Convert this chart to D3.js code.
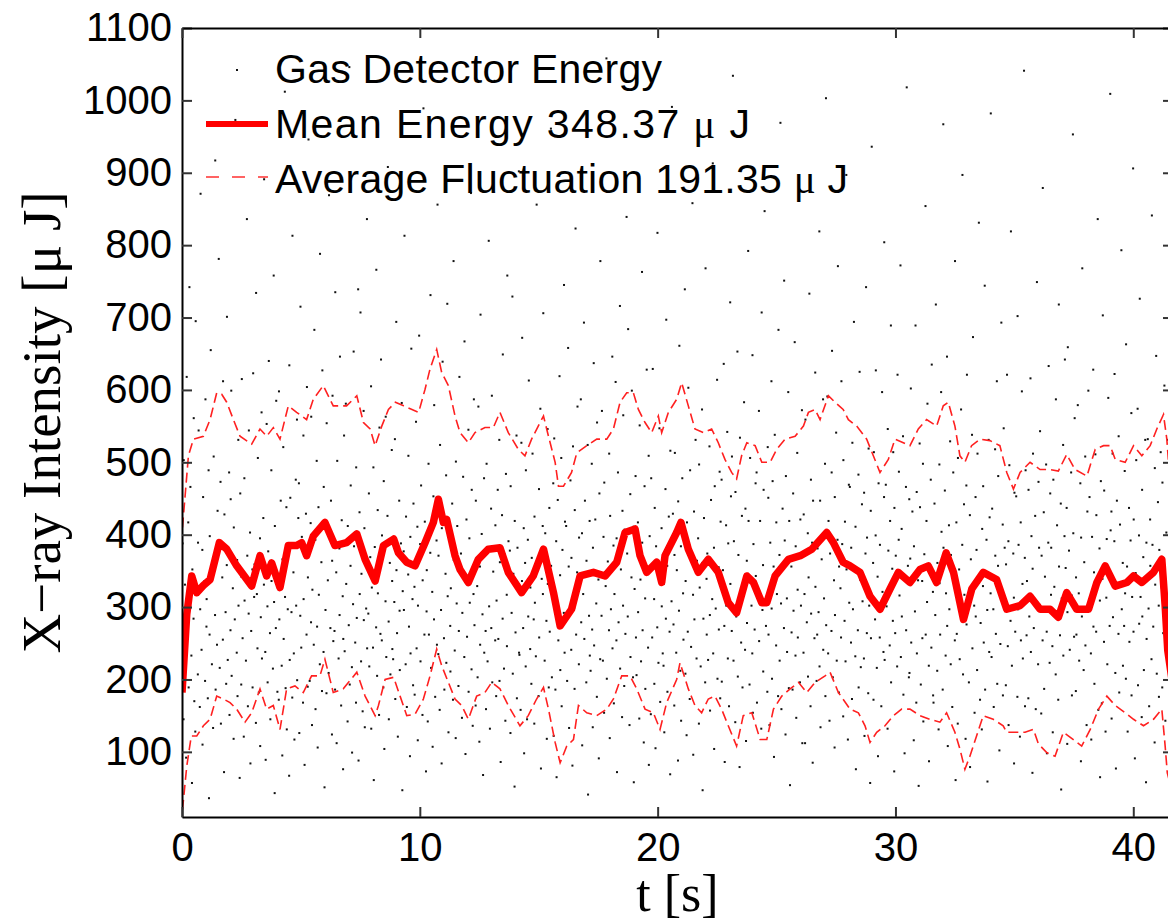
<!DOCTYPE html>
<html lang="en">
<head>
<meta charset="UTF-8">
<title>Gas Detector Energy</title>
<style>
  body { margin: 0; background: #fff; }
  svg text { font-family: "Liberation Sans", Arial, Helvetica, sans-serif; }
</style>
</head>
<body>
<svg id="chart" width="1168" height="921"></svg>

<script src="https://cdn.jsdelivr.net/npm/d3@7"></script>
<script>

const xTickValues = [0, 10, 20, 30, 40]
const yTickValues = [100, 200, 300, 400, 500, 600, 700, 800, 900, 1000, 1100]
const tEnd = 41.67
const meanEnergy = 348.37
const avgFluctuation = 191.35

// single shot energies (uJ), in shot order over 0..tEnd
const shotEnergy = [
  212,388,145,503,276,331,92,618,254,417,189,742,301,466,233,57,352,284,561,170,
  128,695,318,207,389,544,162,297,871,241,379,110,452,336,198,587,273,
  311,174,489,36,262,398,655,221,347,133,508,289,917,186,362,248,433,
  781,392,216,473,139,341,255,612,72,428,293,194,358,701,227,486,
  151,268,449,599,205,326,118,410,283,973,237,365,177,531,302,64,457,
  193,342,615,257,121,478,309,226,836,371,163,291,544,403,84,267,352,189,623,314,
  359,140,734,318,243,506,182,395,108,286,569,229,423,331,891,
  238,89,553,301,196,377,640,264,145,489,336,215,758,307,43,412,271,585,183,
  334,172,598,283,447,219,95,366,521,256,1012,314,188,438,131,297,
  67,634,227,451,293,175,813,348,236,117,476,302,559,199,423,
  471,126,288,715,244,397,168,537,311,82,429,262,604,190,341,946,
  198,416,279,563,137,324,248,683,393,159,502,273,106,438,317,221,788,362,184,
  627,238,466,51,296,413,181,554,337,209,869,271,447,124,364,592,253,
  267,186,735,348,112,502,229,381,289,646,164,420,315,76,256,537,
  239,581,332,142,412,275,1046,193,357,468,217,99,304,653,384,251,168,493,285,739,
  88,431,318,707,225,346,156,571,282,409,134,298,836,243,
  291,457,218,369,605,132,327,244,493,61,383,272,766,205,434,319,151,548,263,
  642,254,399,189,474,104,308,563,231,426,908,280,145,361,207,517,336,242,
  228,307,532,173,694,351,264,121,447,295,213,388,582,47,322,
  377,296,813,221,425,162,345,509,273,94,397,236,657,311,192,443,
  328,179,556,243,411,116,302,675,387,225,468,151,337,989,262,418,73,294,
  351,142,498,262,375,731,216,321,107,453,283,579,176,392,248,856,
  235,371,158,524,296,84,409,639,257,186,346,482,223,719,315,127,398,274,
  211,326,443,172,778,365,240,119,501,305,412,191,267,618,353,
  374,147,292,480,231,667,338,97,421,259,545,183,395,306,872,214,462,136,318,587,
  275,164,447,329,203,577,114,356,248,704,401,290,68,478,237,
  267,159,498,383,225,806,301,132,436,271,592,196,349,1027,254,413,177,309,462,
  256,531,198,362,86,427,284,649,215,373,143,484,317,246,758,391,
  378,126,467,292,729,208,346,52,419,265,537,174,382,902,237,
  234,158,527,336,672,271,409,98,361,218,489,145,393,287,613,242,327,
  194,368,512,283,139,425,306,232,856,351,177,463,258,574,77,339,412,
  318,706,226,402,281,118,546,332,189,437,266,961,357,203,471,122,
  533,312,186,391,65,448,254,619,344,213,506,163,379,292,745,237,418,
  412,198,287,658,356,133,475,241,368,81,522,299,187,434,823,262,348,577,221,396,
  343,587,279,402,109,318,693,256,447,196,364,524,41,288,419,233,
  212,498,269,134,382,637,247,421,305,176,555,338,91,457,228,778,
  288,571,226,397,154,472,329,1058,201,363,268,512,119,426,297,646,243,385,167,
  318,611,254,395,72,486,279,716,215,352,148,433,302,565,191,407,263,839,
  374,287,684,137,456,231,341,599,203,411,58,325,481,258,
  206,417,293,146,551,338,225,763,389,268,113,467,312,187,628,354,244,509,82,398,
  152,478,258,629,311,194,437,105,384,272,817,223,346,547,169,409,301,236,
  219,332,127,463,284,697,357,183,425,266,69,516,308,991,
  429,276,164,372,513,237,351,88,446,295,661,212,384,143,478,319,255,739,
  208,336,123,417,266,603,382,173,489,245,858,317,96,432,283,531,229,364,
  395,139,497,327,218,573,361,47,284,423,196,768,339,262,
  374,227,522,289,157,448,311,913,236,382,104,467,298,614,201,355,269,487,174,418,
  476,197,351,636,274,86,413,302,542,229,388,163,721,332,453,
  267,508,1034,226,391,141,459,287,653,204,372,316,79,534,251,426,189,
  328,583,241,436,115,364,278,792,419,193,506,302,236,648,154,387,269,471,343,
  486,168,324,571,253,419,132,707,296,358,211,462,847,274,183,521,
  451,262,137,389,612,298,201,474,356,93,538,247,417,318,177,683,372,226,969,305,
  159,436,271,751,392,124,481,312,238,597,188,419,54,356,265,
  186,457,295,666,233,384,147,513,324,258,876,196,421,302,572,112,
  237,428,318,112,559,279,402,204,341,733,163,476,291,389,85,447,257,624,328,198,
  262,381,293,819,218,447,134,366,587,241,312,498,177,1003,275,
  591,236,419,143,374,267,486,654,203,337,106,452,289,541,226,393,771,182,356,
  326,258,612,387,149,503,281,418,225,897,352,117,469,306,
  466,251,382,173,527,297,694,232,411,76,349,268,483,189,625,338,217,442,308,
  229,458,122,374,742,264,396,181,519,302,57,433,257,936,361,
  172,514,283,399,627,216,342,94,471,258,386,163,597,321,238,452,804,
  227,469,301,132,546,378,247,419,689,196,353,281,514,73,437,264,371,218,621,393,
  487,316,772,231,408,287,536,179,342,98,466,268,1018,357,203,449,
  209,367,602,251,432,116,384,294,689,168,459,236,337,53,526,
  438,193,336,257,498,142,373,854,262,419,307,581,219,87,352,476,244,635,321,178,
  168,443,289,718,212,361,131,497,333,262,597,404,186,967,
  382,461,233,319,646,274,108,413,297,529,221,372,162,486,349,254,778,61,
  417,263,139,506,352,228,573,294,386,897,207,442,317,118,468,276,621,
  318,196,427,79,366,538,243,673,302,154,452,287,379,213,512,831,334,172,
  278,131,408,329,467,251,744,186,393,296,59,531,238,424,319,982,
  231,436,297,162,518,371,263,612,194,357,481,102,327,249,693,414,178,547,306,382,
  192,359,621,246,391,137,496,281,819,219,374,313,84,458,266,
  453,176,702,297,386,121,417,254,598,332,229,1041,368,163,489,261,
  336,174,462,287,616,238,398,71,353,512,271,426,159,749,304,221,473,382,
  303,543,153,371,254,879,431,187,342,497,266,98,389,633,223,457,317,
  382,246,127,476,328,207,587,294,413,172,718,356,261,443,48,312,524,233,398,642,
  354,437,111,293,659,378,241,486,316,178,953,402,259,561,
  184,341,262,579,319,226,471,87,396,287,768,213,362,508,247,137,432,301,599,
  301,452,236,117,397,628,273,348,194,511,266,427,836,158,381,309,65,474,
  167,339,703,252,461,128,313,394,221,589,342,274,1009,406,
  432,146,512,286,391,622,209,77,447,328,263,536,182,414,793,297,361,219,
  274,488,319,201,663,356,128,437,252,392,568,178,314,906,266,421,91,347,503,
  574,192,399,277,726,314,148,462,287,369,213,531,58,389,256,
  532,298,163,421,357,228,841,386,273,113,492,331,647,208,445,302,176,379,514,
  327,189,472,264,606,318,143,403,287,531,226,987,354,92,437,261,698
]

// spacing between the shown shots, in machine pulses (shots are not all shown)
const shotGap = [
  3,5,1,4,2,6,3,1,7,2,4,4,1,5,3,2,6,1,3,5,2,7,4,1,3,6,2,2,5,4,1,3,7,3,2,5,1,6,4,2,3,1,5,6,2,4,3,7,1,2,
  5,2,3,6,1,4,4,2,7,3,1,5,2,6,3,3,1,4,7,2,5,1,3,2,6,4,1,5,3,7,2,2,4,1,6,3,5,1,2,4,6,3,1,7,5,2,3,4,1,6,
  2,4,6,1,3,5,2,7,1,4,3,2,5,6,1,3,4,2,7,3,1,6,2,5,4,1,3,3,6,2,5,1,7,4,2,3,1,5,2,6,4,3,1,2,7,5,3,1,4,2,
  6,1,3,4,2,5,7,1,2,3,6,4,1,5,2,3,7,2,4,1,6,3,2,5,1,4,3,6,2,1,5,7,3,2,4,1,3,6,5,2,1,4,2,7,3,5,1,6,2,3,
  4,2,5,1,7,3,2,6,1,4,5,2,3,1,6,4,2,7,3,5,1,2,4,6,3,1,5,2,3,7,4,1,2,6,3,5,2,1,4,3,6,2,7,1,5,3,2,4,1,6,
  1,5,3,2,6,4,1,3,7,2,5,1,4,3,2,6,5,1,3,2,7,4,1,6,3,2,5,4,1,3,6,2,2,5,7,1,4,3,1,6,2,5,3,4,1,7,2,3,6,1,
  3,6,2,4,1,5,3,7,2,1,4,6,3,2,5,1,3,4,7,2,1,6,4,3,2,5,1,3,6,2,4,7,1,3,5,2,1,4,6,3,2,5,1,7,3,4,2,1,6,5,
  2,3,7,1,4,5,2,6,3,1,5,4,2,7,1,3,6,2,4,3,1,5,7,2,3,4,1,6,2,5,3,1,4,7,2,6,3,1,5,2,4,3,6,1,2,7,4,3,1,5,
  5,1,4,3,6,2,3,7,1,5,2,4,6,1,3,2,5,3,7,1,4,2,6,3,1,5,4,2,3,6,1,7,2,4,5,3,1,2,6,4,3,5,1,7,2,3,4,1,6,2,
  4,6,1,3,2,5,7,3,1,4,2,6,3,5,1,2,4,7,3,1,6,2,5,3,4,1,2,6,7,3,1,5,4,2,3,6,1,4,5,2,3,7,1,2,6,4,3,1,5,3,
  2,5,3,1,6,4,2,3,7,1,5,2,4,6,3,1,2,5,4,7,3,2,1,6,3,4,5,1,2,7,3,6,2,4,1,5,3,2,6,1,4,7,2,3,5,1,4,2,6,3,
  6,3,1,5,2,4,7,1,3,2,6,5,1,4,3,2,7,4,1,5,3,6,2,1,4,3,5,2,7,1,6,3,2,4,1,5,4,2,3,7,1,6,2,5,3,1,4,6,2,3,
  1,4,2,6,5,3,1,7,2,3,4,1,6,2,5,3,3,1,7,4,2,5,6,1,3,2,4,7,1,5,2,3,6,4,1,2,5,3,7,1,4,6,2,3,1,5,2,4,6,3,
  3,2,7,4,1,5,2,6,3,1,4,5,2,3,7,1,6,2,4,3,5,1,2,6,4,3,1,7,5,2,3,1,4,6,2,5,3,7,1,2,4,3,6,1,5,2,3,4,7,1,
  5,4,1,3,6,2,2,5,1,7,4,3,1,6,2,5,3,4,1,2,7,3,6,1,4,2,5,3,1,6,4,2,7,3,1,5,2,4,3,6,1,2,5,7,3,1,4,2,6,5,
  2,6,4,1,3,5,7,2,1,4,3,6,2,5,1,3,4,7,2,1,5,6,3,2,4,1,3,5,7,2,6,1,4,3,2,5,1,6,4,3,2,7,1,5,3,2,4,6,1,3,
  4,1,5,3,2,7,1,4,6,2,3,5,1,2,6,4,3,7,1,5,2,3,4,1,6,2,5,3,7,4,1,2,3,6,5,1,4,2,7,3,1,5,6,2,4,3,1,2,5,7,
  7,2,3,1,5,4,6,1,2,3,5,2,4,7,1,3,6,2,5,1,4,3,2,6,7,1,3,4,2,5,1,6,3,2,4,7,1,5,3,2,6,4,1,3,5,2,1,7,4,2,
  3,5,2,6,1,4,3,2,7,5,1,3,4,6,2,1,5,3,2,7,4,1,6,3,2,5,4,1,3,2,6,7,1,4,5,2,3,1,6,4,2,5,3,7,1,2,4,6,3,1,
  1,6,3,4,2,5,1,7,3,2,4,5,1,6,2,3,4,1,7,5,2,3,6,1,4,2,3,5,7,1,2,6,4,3,1,5,2,4,6,3,7,1,2,5,3,4,1,6,2,3,
  5,3,1,4,7,2,2,6,3,1,5,4,2,3,6,1,7,4,2,5,3,1,2,6,4,5,1,3,7,2,4,1,6,3,2,5,1,4,3,7,2,6,1,3,5,2,4,1,6,2,
  2,4,7,1,3,6,5,2,1,4,3,2,6,7,1,5,3,4,2,1,6,3,5,2,4,7,1,3,2,5,6,1,4,3,2,7,1,5,4,3,2,6,1,2,5,4,3,7,1,6,
  4,1,3,5,2,6,3,1,7,4,2,5,1,3,6,2,4,3,1,7,5,2,6,1,3,4,2,5,1,6,3,7,2,4,1,3,5,2,6,4,1,2,7,3,5,1,4,6,2,3,
  6,2,5,1,4,3,2,7,1,5,3,6,2,4,1,3,5,2,7,4,1,6,3,2,5,1,4,3,6,2,7,1,3,5,2,4,1,6,3,2,5,7,1,4,2,3,6,1,5,4,
  3,1,4,6,2,5,7,3,1,2,4,5,6,1,3,2,7,4,1,5,3,2,6,4,1,3,5,2,7,1,4,6,2,3,5,1,2,4,7,3,6,1,5,2,3,4,1,6,2,5,
  1,5,2,4,6,3,1,7,2,5,3,4,1,6,2,3,5,7,1,4,2,6,3,1,5,4,2,3,7,1,6,2,4,5,3,1,2,6,4,7,3,1,5,2,4,3,6,1,2,7,
  5,2,6,3,1,4,2,7,3,5,1,6,4,2,3,1,5,7,2,4,6,1,3,2,5,4,1,7,3,6,2,1,4,5,3,2,6,1,7,4,2,3,5,1,6,3,2,4,1,5,
  2,7,1,4,3,5,6,2,1,3,4,7,2,5,1,6,3,2,4,1,5,3,7,2,6,4,1,3,5,2,1,6,4,3,7,2,5,1,3,4,6,2,1,5,3,7,4,2,1,6,
  4,3,5,1,6,2,3,4,7,1,2,5,3,6,4,1,2,7,5,3,1,4,6,2,3,5,1,7,2,4,3,6,1,5,2,3,4,1,7,6,2,3,5,1,4,2,6,3,7,1,
  3,6,1,5,2,4,7,1,3,2,6,4,5,1,3,2,7,4,1,6,3,5,2,1,4,7,3,2,6,1,5,4,2,3,1,7,6,2,4,5,3,1,2,6,4,3,7,1,5,2
]

// running mean [t, uJ]
const meanLine = [
  [0,182],[0.2,290],[0.41,343],[0.62,320],[0.9,330],[1.18,338],[1.57,389],[1.88,380],[2.3,357],[2.93,329],
  [3.28,371],[3.56,343],[3.77,361],[4.12,327],[4.47,385],[4.82,385],[5.03,389],[5.24,371],[5.52,398],[6.01,417],
  [6.43,385],[6.92,389],[7.35,401],[7.7,366],[8.12,336],[8.47,385],[8.9,394],[9.1,375],[9.45,362],[9.8,357],
  [10.22,389],[10.57,417],[10.78,449],[10.99,417],[11.13,421],[11.48,371],[11.69,352],[12.04,334],[12.46,366],[12.88,380],
  [13.37,382],[13.72,348],[14.28,320],[14.77,343],[15.2,380],[15.62,320],[15.9,274],[16.38,297],[16.74,343],[17.3,348],
  [17.79,343],[18.28,362],[18.63,403],[19.05,408],[19.26,371],[19.54,348],[19.96,362],[20.17,334],[20.31,371],[20.8,403],
  [20.98,417],[21.29,380],[21.71,348],[22.13,366],[22.55,348],[22.97,306],[23.32,292],[23.75,343],[24.03,334],[24.38,306],
  [24.59,306],[24.94,343],[25.5,366],[26.0,371],[26.48,380],[27.11,403],[27.39,389],[27.8,362],[28.09,357],[28.51,348],
  [28.93,315],[29.35,297],[29.77,325],[30.12,348],[30.61,334],[31.03,352],[31.38,357],[31.73,334],[32.13,375],[32.44,348],
  [32.86,283],[33.21,325],[33.69,348],[34.25,338],[34.68,297],[35.24,302],[35.66,315],[36.08,297],[36.5,297],[36.85,286],
  [37.2,320],[37.62,297],[38.12,297],[38.47,334],[38.82,357],[39.24,329],[39.73,334],[40.01,343],[40.36,334],[40.85,348],
  [41.2,366],[41.34,302],[41.45,240],[41.67,190]
]

// mean + fluctuation [t, uJ]
const upperLine = [
  [0.02,410],[0.27,509],[0.48,532],[0.9,536],[1.18,559],[1.46,596],[1.67,594],[1.88,583],[2.16,559],[2.44,536],
  [2.93,525],[3.28,546],[3.56,536],[3.84,548],[4.12,532],[4.47,578],[4.82,569],[5.24,559],[5.52,587],[5.94,606],
  [6.36,578],[6.92,578],[7.35,592],[7.63,555],[7.91,546],[8.12,523],[8.4,550],[8.68,573],[8.97,583],[9.32,578],
  [9.67,573],[9.95,569],[10.22,601],[10.43,629],[10.71,656],[10.92,624],[11.2,606],[11.48,564],[11.69,541],[12.04,527],
  [12.32,541],[12.74,548],[13.09,548],[13.37,569],[13.72,541],[14.14,518],[14.42,509],[14.7,532],[14.98,550],[15.2,564],
  [15.41,536],[15.69,500],[15.83,467],[16.04,467],[16.38,486],[16.6,513],[17.02,523],[17.44,532],[17.86,532],[18.14,546],
  [18.42,583],[18.7,596],[18.98,596],[19.19,573],[19.47,555],[19.75,541],[20.03,564],[20.17,541],[20.45,569],[20.8,587],
  [21.01,610],[21.29,578],[21.57,546],[21.92,541],[22.27,546],[22.55,527],[22.83,504],[23.11,486],[23.32,477],[23.53,509],
  [23.75,527],[24.1,523],[24.38,500],[24.73,500],[25.01,518],[25.36,532],[25.78,536],[26.13,550],[26.34,569],[26.62,573],
  [26.83,559],[27.18,592],[27.46,583],[27.8,573],[28.02,559],[28.37,550],[28.79,532],[29.07,509],[29.35,486],[29.7,504],
  [29.98,532],[30.33,527],[30.61,523],[30.96,546],[31.31,559],[31.73,550],[32.01,578],[32.22,583],[32.5,550],[32.71,509],
  [32.92,500],[33.2,523],[33.55,532],[33.97,530],[34.39,523],[34.68,486],[34.96,463],[35.24,486],[35.66,500],[36.08,490],
  [36.5,490],[36.85,488],[37.2,511],[37.55,490],[38.05,481],[38.4,518],[38.75,523],[39.03,523],[39.24,504],[39.66,500],
  [40.01,523],[40.36,509],[40.71,523],[40.99,546],[41.27,566],[41.41,532],[41.55,470],[41.67,430]
]

// mean - fluctuation [t, uJ]
const lowerLine = [
  [0.02,20],[0.2,80],[0.39,122],[0.62,122],[0.9,136],[1.18,145],[1.46,177],[1.74,173],[2.02,168],[2.3,159],
  [2.65,141],[2.93,154],[3.28,187],[3.56,159],[3.84,164],[4.12,131],[4.4,187],[4.75,191],[5.1,182],[5.45,205],
  [5.8,205],[6.01,228],[6.36,182],[6.78,187],[7.35,210],[7.7,177],[8.12,150],[8.26,164],[8.54,200],[8.9,203],
  [9.17,177],[9.45,150],[9.8,152],[10.15,173],[10.43,205],[10.71,242],[10.92,219],[11.2,196],[11.48,173],[11.76,164],
  [12.04,145],[12.39,177],[12.74,182],[13.02,196],[13.37,187],[13.72,164],[14.21,136],[14.56,150],[14.91,173],[15.2,189],
  [15.41,159],[15.69,113],[15.9,85],[16.18,108],[16.46,117],[16.67,164],[17.02,154],[17.44,150],[17.86,159],[18.14,173],
  [18.49,205],[18.84,205],[19.12,187],[19.47,159],[19.82,154],[20.1,131],[20.38,168],[20.8,200],[20.94,223],[21.29,187],
  [21.57,164],[21.85,154],[22.13,173],[22.41,177],[22.69,159],[22.97,136],[23.32,108],[23.6,150],[23.96,154],[24.31,117],
  [24.59,117],[24.87,159],[25.22,177],[25.57,187],[25.92,196],[26.27,182],[26.62,196],[27.04,205],[27.25,210],[27.6,182],
  [28.09,159],[28.44,154],[28.72,136],[28.93,113],[29.21,127],[29.56,136],[29.91,150],[30.26,159],[30.61,159],[31.03,150],
  [31.45,145],[31.87,141],[32.15,154],[32.5,127],[32.71,104],[32.92,76],[33.13,94],[33.41,122],[33.69,150],[34.11,145],
  [34.53,136],[34.68,127],[35.03,127],[35.45,127],[35.8,131],[36.01,111],[36.36,99],[36.71,94],[37.06,127],[37.48,117],
  [37.83,108],[38.19,131],[38.54,159],[38.89,177],[39.24,164],[39.66,154],[40.01,145],[40.43,136],[40.85,145],[41.2,159],
  [41.34,108],[41.43,71],[41.67,40]
]

let svg = d3.select("#chart")

let plotLeft = 182, plotRight = 1173, plotTop = 28, plotBottom = 817

let x = d3.scaleLinear()
    .domain([0, tEnd])
    .range([plotLeft, plotRight])

let y = d3.scaleLinear()
    .domain([10, 1100])
    .range([plotBottom, plotTop])

svg.append("clipPath")
    .attr("id", "plotClip")
    .append("rect")
    .attr("x", plotLeft).attr("y", plotTop)
    .attr("width", plotRight - plotLeft).attr("height", plotBottom - plotTop)

let plot = svg.append("g").attr("clip-path", "url(#plotClip)")

// shot times: pulse count of each shown shot, spread over the run
let pulse = 0
let shots = shotEnergy.map((e, i) => {
    let p = pulse
    pulse += shotGap[i]
    return { pulse: p, energy: e }
})
let pulseToTime = d3.scaleLinear().domain([0, pulse]).range([0, tEnd])

plot.append("g")
    .selectAll("rect")
    .data(shots)
    .enter()
    .append("rect")
    .attr("x", d => x(pulseToTime(d.pulse)) - 1)
    .attr("y", d => y(d.energy) - 1)
    .attr("width", 2)
    .attr("height", 2)
    .attr("fill", "#111")

let line = d3.line()
    .x(d => x(d[0]))
    .y(d => y(d[1]))

plot.selectAll(".fluct")
    .data([upperLine, lowerLine])
    .enter()
    .append("path")
    .attr("class", "fluct")
    .attr("d", line)
    .attr("fill", "none")
    .attr("stroke", "#ff2020")
    .attr("stroke-width", 1.6)
    .attr("stroke-dasharray", "10,5")

plot.append("path")
    .attr("d", line(meanLine))
    .attr("fill", "none")
    .attr("stroke", "#ff0000")
    .attr("stroke-width", 7.5)
    .attr("stroke-linejoin", "round")

// axes, ticks inside on all four sides
function styleAxis(g) {
    g.select(".domain").attr("stroke", "#000").attr("stroke-width", 2)
    g.selectAll(".tick line").attr("stroke", "#333").attr("stroke-width", 2)
    g.selectAll(".tick text")
        .attr("fill", "#000")
        .style("font-size", "40px")
        .style("font-family", "'Liberation Sans', Arial, sans-serif")
}

svg.append("g")
    .attr("transform", `translate(${plotLeft},0)`)
    .call(d3.axisLeft(y).tickValues(yTickValues).tickFormat(d3.format("d"))
        .tickSize(-10).tickSizeOuter(0).tickPadding(10))
    .call(styleAxis)

svg.append("g")
    .attr("transform", `translate(${plotRight},0)`)
    .call(d3.axisRight(y).tickValues(yTickValues).tickSize(-10).tickSizeOuter(0).tickFormat(""))
    .call(styleAxis)

svg.append("g")
    .attr("transform", `translate(0,${plotBottom})`)
    .call(d3.axisBottom(x).tickValues(xTickValues).tickFormat(d3.format("d"))
        .tickSize(-10).tickSizeOuter(0).tickPadding(16))
    .call(styleAxis)

svg.append("g")
    .attr("transform", `translate(0,${plotTop})`)
    .call(d3.axisTop(x).tickValues(xTickValues).tickSize(-10).tickSizeOuter(0).tickFormat(""))
    .call(styleAxis)

// axis labels
svg.append("text")
    .attr("transform", `translate(60,${(plotTop + plotBottom) / 2}) rotate(-90)`)
    .attr("text-anchor", "middle")
    .style("font-family", "'Liberation Serif', 'Times New Roman', serif")
    .style("font-size", "55px")
    .text("X\u2212ray Intensity [\u03bc J]")

svg.append("text")
    .attr("x", (plotLeft + plotRight) / 2)
    .attr("y", 911)
    .attr("text-anchor", "middle")
    .style("font-family", "'Liberation Serif', 'Times New Roman', serif")
    .style("font-size", "52px")
    .text("t [s]")

// legend (no box)
let legend = svg.append("g")

legend.append("rect")
    .attr("x", 236).attr("y", 69)
    .attr("width", 2).attr("height", 2)
    .attr("fill", "#111")

legend.append("line")
    .attr("x1", 206).attr("x2", 268)
    .attr("y1", 124).attr("y2", 124)
    .attr("stroke", "#ff0000").attr("stroke-width", 6)

legend.append("line")
    .attr("x1", 206).attr("x2", 268)
    .attr("y1", 177).attr("y2", 177)
    .attr("stroke", "#ff3030").attr("stroke-width", 1.6)
    .attr("stroke-dasharray", "13,13")

let legendRows = [
    { label: "Gas Detector Energy", y: 83, width: 387 },
    { label: "Mean Energy " + meanEnergy.toFixed(2) + " ", unit: true, y: 138, width: 475 },
    { label: "Average Fluctuation " + avgFluctuation.toFixed(2) + " ", unit: true, y: 193, width: 573 }
]

legendRows.forEach(r => {
    let t = legend.append("text")
        .attr("x", 275)
        .attr("y", r.y)
        .attr("textLength", r.width)
        .attr("lengthAdjust", "spacing")
        .style("font-size", "41px")
        .text(r.label)
    if (r.unit) {
        t.append("tspan")
            .style("font-family", "'Liberation Serif', 'Times New Roman', serif")
            .text("\u03bc")
        t.append("tspan").text(" J")
    }
})

</script>
</body>
</html>
